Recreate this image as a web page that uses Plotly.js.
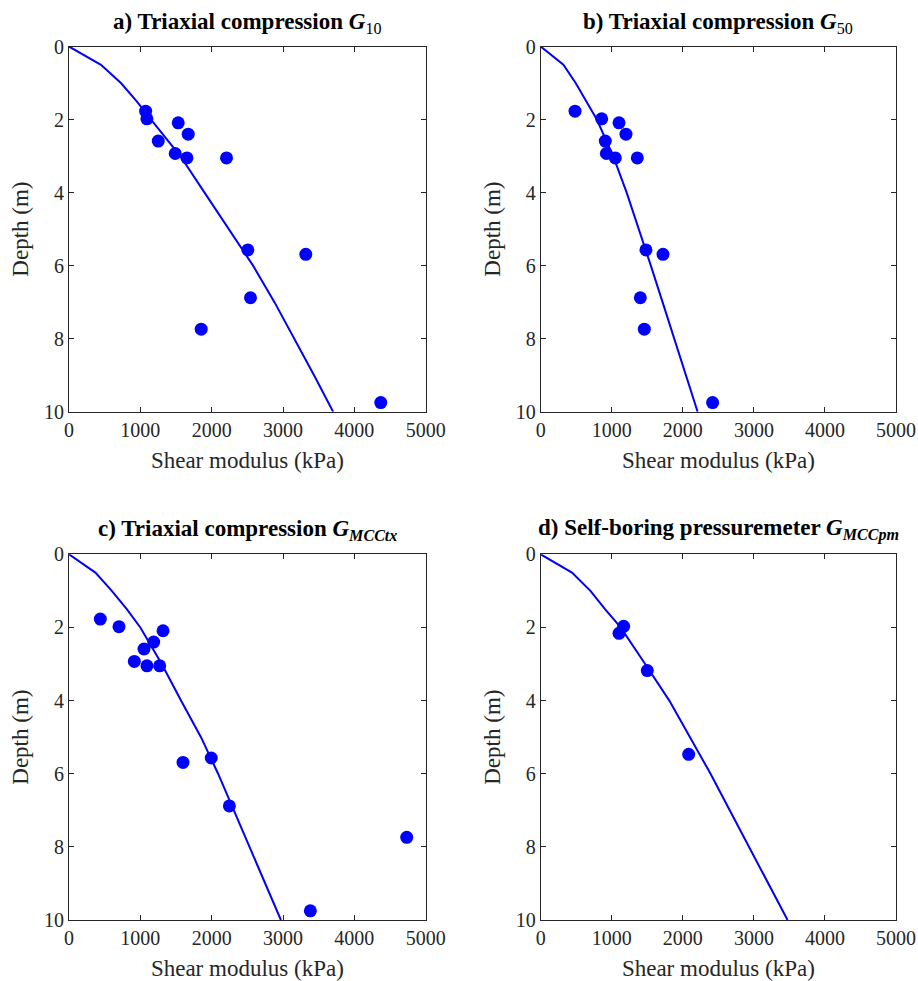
<!DOCTYPE html>
<html>
<head>
<meta charset="utf-8">
<script src="https://cdn.plot.ly/plotly-3.0.1.min.js"></script>
<style>html,body{margin:0;padding:0;background:#fff;}#chart{width:918px;height:981px;}</style>
</head>
<body>
<div id="chart"></div>
<script>
// Measured sample depths (m)
const sampleDepth = [1.77, 1.98, 2.09, 2.40, 2.59, 2.93, 3.05, 3.05, 5.57, 5.69, 6.88, 7.74, 9.75];
// a) G10 (kPa)
const gA = [1074, 1092, 1531, 1671, 1251, 1489, 1653, 2208, 2507, 3319, 2544, 1853, 4370];
// b) G50 (kPa)
const gB = [483, 858, 1102, 1200, 909, 924, 1050, 1360, 1481, 1721, 1402, 1458, 2419];
// c) G_MCCtx (kPa)
const gC = [439, 701, 1318, 1187, 1051, 916, 1093, 1271, 1994, 1598, 2248, 4734, 3383];
// d) G_MCCpm (kPa)
const depthD = [1.97, 2.16, 3.18, 5.47];
const gD = [1167, 1102, 1500, 2082];

// Model curves
const curveDepth = [0, 0.5, 1, 1.5, 2, 2.5, 3, 4, 5, 6, 7, 8, 9, 10];
const curveA = [0, 448, 728, 950, 1150, 1360, 1560, 1900, 2240, 2580, 2880, 3160, 3435, 3702];
const curveB = [0, 319, 492, 645, 790, 905, 1020, 1210, 1385, 1550, 1715, 1880, 2044, 2208];
const curveC = [0, 370, 600, 810, 1000, 1155, 1300, 1570, 1850, 2090, 2310, 2530, 2750, 2970];
const curveD = [0, 440, 700, 905, 1125, 1300, 1470, 1810, 2100, 2390, 2660, 2935, 3205, 3474];

const titles = [
  '<b>a) Triaxial compression <i>G</i></b><sub>10</sub>',
  '<b>b) Triaxial compression <i>G</i></b><sub>50</sub>',
  '<b>c) Triaxial compression <i>G<sub>MCCtx</sub></i></b>',
  '<b>d) Self-boring pressuremeter <i>G<sub>MCCpm</sub></i></b>'
];
const xTitle = 'Shear modulus (kPa)';
const yTitle = 'Depth (m)';

const BLUE = '#0000ff';
const FONT = '"Liberation Serif", "Times New Roman", serif';
const W = 918, H = 981;
const xd = [[69 / W, 425.7 / W], [540.7 / W, 896 / W]];
const yd = [[1 - 411.7 / H, 1 - 46.5 / H], [1 - 920 / H, 1 - 554.3 / H]];

const panels = [
  {xs: gA, ys: sampleDepth, cx: curveA},
  {xs: gB, ys: sampleDepth, cx: curveB},
  {xs: gC, ys: sampleDepth, cx: curveC},
  {xs: gD, ys: depthD, cx: curveD}
];

const traces = [];
const layout = {
  width: W, height: H,
  margin: {l: 0, r: 0, t: 0, b: 0},
  paper_bgcolor: '#fff', plot_bgcolor: '#fff',
  showlegend: false,
  font: {family: FONT, size: 20, color: '#262626'},
  annotations: []
};

panels.forEach((p, i) => {
  const n = i + 1;
  const xa = n === 1 ? 'x' : 'x' + n;
  const ya = n === 1 ? 'y' : 'y' + n;
  traces.push({
    x: p.cx, y: curveDepth, xaxis: xa, yaxis: ya,
    mode: 'lines', line: {color: BLUE, width: 2}, hoverinfo: 'skip'
  });
  traces.push({
    x: p.xs, y: p.ys, xaxis: xa, yaxis: ya,
    mode: 'markers', marker: {color: BLUE, size: 13}
  });
  const col = i % 2, row = Math.floor(i / 2);
  const axCommon = {
    showgrid: false, zeroline: false,
    showline: true, linecolor: '#262626', linewidth: 1, mirror: 'ticks',
    ticks: 'inside', ticklen: 5, tickcolor: '#262626', tickwidth: 1,
    tickfont: {family: FONT, size: 20, color: '#262626'}
  };
  layout['xaxis' + (n === 1 ? '' : n)] = Object.assign({}, axCommon, {
    domain: xd[col], anchor: ya, range: [0, 5000], dtick: 1000, tick0: 0,
    title: {text: xTitle, font: {family: FONT, size: 23, color: '#262626'}, standoff: 12}
  });
  layout['yaxis' + (n === 1 ? '' : n)] = Object.assign({}, axCommon, {
    domain: yd[row], anchor: xa, range: [10, 0], dtick: 2, tick0: 0,
    title: {text: yTitle, font: {family: FONT, size: 23, color: '#262626'}, standoff: 8}
  });
  layout.annotations.push({
    text: titles[i], xref: 'paper', yref: 'paper',
    x: (xd[col][0] + xd[col][1]) / 2, y: yd[row][1],
    xanchor: 'center', yanchor: 'bottom', yshift: 8, showarrow: false,
    font: {family: FONT, size: 23, color: '#000'}
  });
});

Plotly.newPlot('chart', traces, layout, {displayModeBar: false, staticPlot: true});
</script>
</body>
</html>
